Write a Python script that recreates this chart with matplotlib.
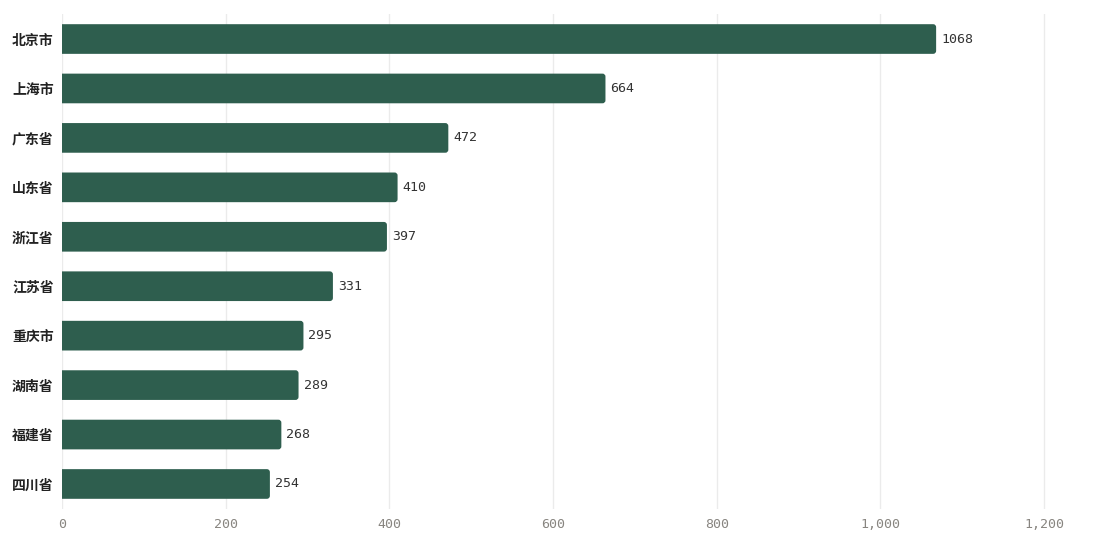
import numpy as np
import matplotlib
matplotlib.use('Agg')
import matplotlib.pyplot as plt
from matplotlib.patches import FancyBboxPatch
from matplotlib.ticker import FuncFormatter

plt.rcParams['font.family'] = ['Noto Sans CJK SC', 'DejaVu Sans']

provinces = ['北京市', '上海市', '广东省', '山东省', '浙江省',
             '江苏省', '重庆市', '湖南省', '福建省', '四川省']
counts = [1068, 664, 472, 410, 397, 331, 295, 289, 268, 254]
xticks = [0, 200, 400, 600, 800, 1000, 1200]

bar_color = '#2e5e4e'

fig = plt.figure(figsize=(11, 5.4), dpi=100)
ax = fig.add_axes([62 / 1100, 31.3 / 540, 1028 / 1100, 494.4 / 540])

y = np.arange(len(provinces))
bars = ax.barh(y, counts, height=0.6, color=bar_color, alpha=0)

xmax = 1256
ax.set_xlim(0, xmax)
ax.set_ylim(len(provinces) - 0.5, -0.5)

# rounded bars (left side clipped at the axis)
px_x = xmax / 1028
px_y = 1 / 49.44
for b in bars:
    x0, y0 = b.get_x(), b.get_y()
    w, h = b.get_width(), b.get_height()
    p = FancyBboxPatch((x0 - 6, y0), w + 6, h,
                       boxstyle='round,pad=0,rounding_size=%f' % (3 * px_x),
                       mutation_aspect=px_y / px_x,
                       facecolor=bar_color, edgecolor='none', zorder=3)
    ax.add_patch(p)

for yi, v in zip(y, counts):
    ax.text(v + 5 * px_x, yi, str(v), va='center', ha='left',
            family='DejaVu Sans Mono', fontsize=9.5, color='#333333', zorder=4)

ax.set_yticks(y)
ax.set_yticklabels(provinces, fontsize=10, color='#222222', fontweight='bold')
ax.set_xticks(xticks)
ax.xaxis.set_major_formatter(FuncFormatter(lambda v, p: '{:,.0f}'.format(v)))
for lab in ax.get_xticklabels():
    lab.set_family('DejaVu Sans Mono')
    lab.set_fontsize(9.5)
    lab.set_color('#888580')

ax.tick_params(axis='both', length=0)
ax.tick_params(axis='y', pad=6)
ax.tick_params(axis='x', pad=7)
for s in ax.spines.values():
    s.set_visible(False)
ax.grid(axis='x', color='#ebebeb', linewidth=1, zorder=0)
ax.set_axisbelow(True)

fig.savefig('out.png', dpi=100, facecolor='white')
